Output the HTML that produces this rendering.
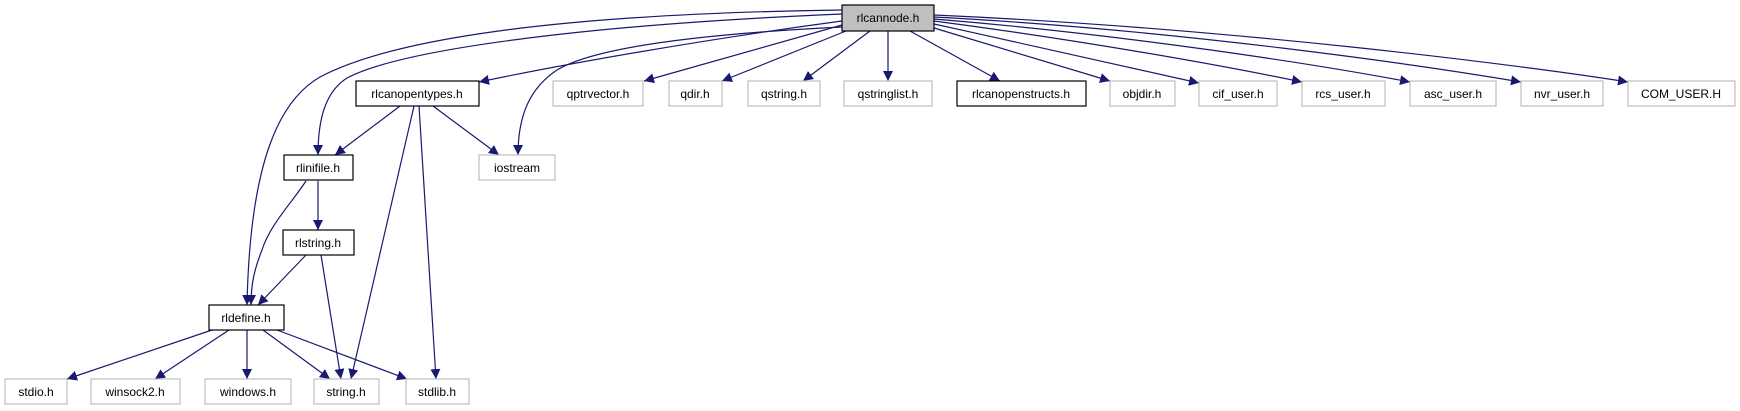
<!DOCTYPE html>
<html><head><meta charset="utf-8"><style>
html,body{margin:0;padding:0;background:#fff;}
svg{display:block;}
text{font-family:"Liberation Sans",Arial,sans-serif;font-size:12px;fill:#000;text-anchor:middle;}
.e{fill:none;stroke:#191970;stroke-width:1.2;}
.g{fill:#fff;stroke:#bfbfbf;stroke-width:1.2;}
.b{fill:#fff;stroke:#000;stroke-width:1.2;}
</style></head><body>
<svg width="1740" height="411" viewBox="0 0 1740 411" xmlns="http://www.w3.org/2000/svg">
<defs><marker id="a" viewBox="0 0 10 10" refX="10" refY="5" markerWidth="10" markerHeight="10" markerUnits="userSpaceOnUse" orient="auto"><path d="M0,0 L10,5 L0,10 z" fill="#191970"/></marker></defs>
<g class="e" marker-end="url(#a)">
<path d="M842,10 C550,14 390,40 320,77 C280,100 250,160 247,305"/>
<path d="M842,14 C580,25 400,50 347,78 C325,92 318,120 318,155"/>
<path d="M842,27 C680,35 590,50 557,70 C530,88 518,115 518,155"/>
<path d="M842,21 C700,40 560,65 479,82"/>
<path d="M842,25 L644,81"/>
<path d="M846,31 L722,81"/>
<path d="M870,31 L803,81"/>
<path d="M888,31 L888,81"/>
<path d="M910,31 L1000,81"/>
<path d="M934,28 L1110,81"/>
<path d="M934,24 C1030,45 1130,68 1199,83"/>
<path d="M934,21 C1080,40 1220,65 1302,82"/>
<path d="M934,19 C1130,35 1320,65 1410,82"/>
<path d="M934,17 C1180,30 1420,65 1521,82"/>
<path d="M934,15 C1230,28 1520,65 1628,82"/>
<path d="M400,106 L335,155"/>
<path d="M433,106 L499,155"/>
<path d="M414,106 L351,379"/>
<path d="M419,106 L436,379"/>
<path d="M318,181 L318,230"/>
<path d="M306,181 C290,205 270,225 262,250 C254,270 251,285 251,305"/>
<path d="M306,255 L258,305"/>
<path d="M321,255 L341,379"/>
<path d="M212,330 L67,379"/>
<path d="M229,330 L155,379"/>
<path d="M247,330 L247,379"/>
<path d="M263,330 L330,379"/>
<path d="M277,330 L407,379"/>
</g>
<rect x="842" y="5" width="92" height="26" fill="#bfbfbf" stroke="#000" stroke-width="1.2"/><text x="888" y="22">rlcannode.h</text>
<rect class="b" x="356" y="81" width="123" height="25"/><text x="417" y="98">rlcanopentypes.h</text>
<rect class="g" x="553" y="81" width="90" height="25"/><text x="598" y="98">qptrvector.h</text>
<rect class="g" x="669" y="81" width="53" height="25"/><text x="695" y="98">qdir.h</text>
<rect class="g" x="748" y="81" width="72" height="25"/><text x="784" y="98">qstring.h</text>
<rect class="g" x="844" y="81" width="88" height="25"/><text x="888" y="98">qstringlist.h</text>
<rect class="b" x="957" y="81" width="129" height="25"/><text x="1021" y="98">rlcanopenstructs.h</text>
<rect class="g" x="1110" y="81" width="65" height="25"/><text x="1142" y="98">objdir.h</text>
<rect class="g" x="1199" y="81" width="78" height="25"/><text x="1238" y="98">cif_user.h</text>
<rect class="g" x="1302" y="81" width="83" height="25"/><text x="1343" y="98">rcs_user.h</text>
<rect class="g" x="1410" y="81" width="86" height="25"/><text x="1453" y="98">asc_user.h</text>
<rect class="g" x="1521" y="81" width="82" height="25"/><text x="1562" y="98">nvr_user.h</text>
<rect class="g" x="1628" y="81" width="107" height="25"/><text x="1681" y="98">COM_USER.H</text>
<rect class="b" x="284" y="155" width="69" height="25"/><text x="318" y="172">rlinifile.h</text>
<rect class="g" x="479" y="155" width="76" height="25"/><text x="517" y="172">iostream</text>
<rect class="b" x="283" y="230" width="71" height="25"/><text x="318" y="247">rlstring.h</text>
<rect class="b" x="209" y="305" width="75" height="25"/><text x="246" y="322">rldefine.h</text>
<rect class="g" x="5" y="379" width="62" height="25"/><text x="36" y="396">stdio.h</text>
<rect class="g" x="91" y="379" width="89" height="25"/><text x="135" y="396">winsock2.h</text>
<rect class="g" x="205" y="379" width="86" height="25"/><text x="248" y="396">windows.h</text>
<rect class="g" x="314" y="379" width="65" height="25"/><text x="346" y="396">string.h</text>
<rect class="g" x="406" y="379" width="63" height="25"/><text x="437" y="396">stdlib.h</text>
</svg>
</body></html>
